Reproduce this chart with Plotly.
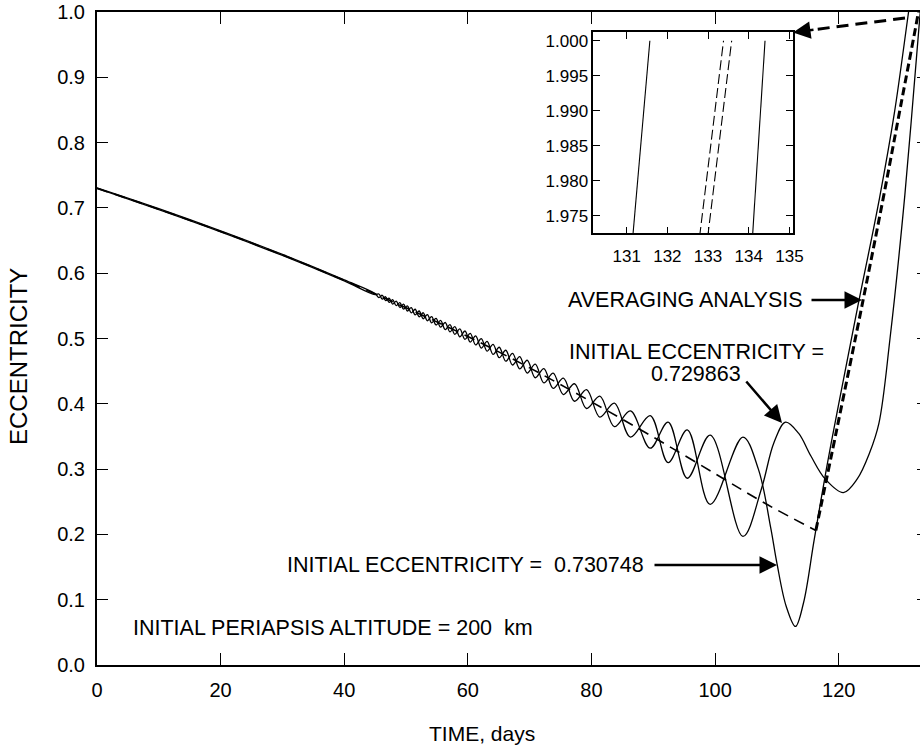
import plotly.graph_objects as go

# ---------------- data ----------------
# Curve for initial eccentricity 0.730748 (solid)
days_a = [0, 10, 20, 30, 40, 45,
          45.61, 46.15, 46.70, 47.26, 47.83, 48.41, 49.00, 49.60, 50.21, 50.83,
          51.47, 52.12, 52.78, 53.45, 54.14, 54.85, 55.58, 56.33, 57.10, 57.89,
          58.70, 59.53, 60.38, 61.26, 62.17, 63.11, 64.08, 65.08, 66.13, 67.23,
          68.38, 69.60, 70.90, 72.30, 73.80, 75.45, 77.25, 79.20, 81.35, 83.70,
          86.30, 89.50, 92.40, 95.50, 99.20, 104.50,
          107.0, 109.0, 110.0, 111.5, 113.0, 114.3, 116.0, 118.0, 120.0, 123.0,
          126.6, 129.0, 131.3, 132.5]
ecc_a = [0.7307, 0.6988, 0.6648, 0.6288, 0.5898, 0.5688,
         0.5626, 0.5662, 0.5579, 0.5617, 0.5528, 0.5572, 0.5475, 0.5525, 0.5421, 0.5474,
         0.5362, 0.5421, 0.5302, 0.5365, 0.5240, 0.5307, 0.5174, 0.5245, 0.5102, 0.5182,
         0.5026, 0.5115, 0.4946, 0.5039, 0.4854, 0.4956, 0.4757, 0.4866, 0.4652, 0.4772,
         0.4535, 0.4667, 0.4399, 0.4540, 0.4235, 0.4392, 0.4039, 0.4216, 0.3797, 0.4010,
         0.3490, 0.3820, 0.3100, 0.3600, 0.2460, 0.3490,
         0.300, 0.210, 0.156, 0.090, 0.059, 0.095, 0.190, 0.300, 0.400, 0.545,
         0.715, 0.845, 1.000, 1.080]

# Curve for initial eccentricity 0.729863 (solid)
days_b = [0, 10, 20, 30, 40, 45,
          45.61, 46.15, 46.70, 47.26, 47.83, 48.41, 49.00, 49.60, 50.21, 50.83,
          51.47, 52.12, 52.78, 53.45, 54.14, 54.85, 55.58, 56.33, 57.10, 57.89,
          58.70, 59.53, 60.38, 61.26, 62.17, 63.11, 64.08, 65.08, 66.13, 67.23,
          68.38, 69.60, 70.90, 72.30, 73.80, 75.45, 77.25, 79.20, 81.35, 83.70,
          86.30, 89.50, 92.40, 95.50, 99.20, 104.50,
          107.5, 109.5, 111.4, 113.5, 115.5, 117.8, 120.75, 123.0, 125.0, 126.5,
          128.3, 130.7, 133.1, 134.0]
ecc_b = [0.7299, 0.6972, 0.6632, 0.6272, 0.5882, 0.5672,
         0.5682, 0.5602, 0.5639, 0.5553, 0.5594, 0.5502, 0.5549, 0.5449, 0.5501, 0.5392,
         0.5448, 0.5333, 0.5394, 0.5271, 0.5336, 0.5207, 0.5276, 0.5137, 0.5214, 0.5064,
         0.5148, 0.4987, 0.5078, 0.4901, 0.4998, 0.4806, 0.4911, 0.4706, 0.4820, 0.4594,
         0.4721, 0.4471, 0.4607, 0.4320, 0.4469, 0.4142, 0.4307, 0.3928, 0.4117, 0.3650,
         0.3890, 0.3320, 0.3720, 0.2860, 0.3520, 0.1970,
         0.270, 0.340, 0.372, 0.355, 0.320, 0.285, 0.264, 0.285, 0.325, 0.370,
         0.500, 0.720, 0.990, 1.080]

# Averaging analysis (dashed): decay part and rise part
avg_days = [0, 10, 20, 30, 40, 50, 60, 70, 80, 90, 100, 108, 116.3]
avg_ecc = [0.730, 0.698, 0.664, 0.628, 0.589, 0.547, 0.503, 0.455, 0.403, 0.349,
           0.293, 0.248, 0.206]
rise_days = [116.3, 119.7, 124.0, 127.2, 130.0, 132.9, 134.0]
rise_ecc = [0.206, 0.3615, 0.5615, 0.715, 0.855, 1.000, 1.060]

# Inset (zoom near the top)
inset_a_days = [131.12, 131.57]
inset_a_ecc = [1.970, 2.000]
inset_b_days = [134.07, 134.40]
inset_b_ecc = [1.970, 2.000]
inset_avg1_days = [132.75, 133.38]
inset_avg1_ecc = [1.970, 2.000]
inset_avg2_days = [132.95, 133.58]
inset_avg2_ecc = [1.970, 2.000]

x_ticks = [0, 20, 40, 60, 80, 100, 120]
y_ticks = [0.0, 0.1, 0.2, 0.3, 0.4, 0.5, 0.6, 0.7, 0.8, 0.9, 1.0]
y_tick_text = ["0.0", "0.1", "0.2", "0.3", "0.4", "0.5", "0.6", "0.7", "0.8", "0.9", "1.0"]
inset_x_ticks = [131, 132, 133, 134, 135]
inset_y_ticks = [1.975, 1.980, 1.985, 1.990, 1.995, 2.000]
inset_y_text = ["1.975", "1.980", "1.985", "1.990", "1.995", "1.000"]

# ---------------- figure ----------------
FONT = "Liberation Sans, Arial, Helvetica, sans-serif"
W, H = 920, 748
ML, MR, MT, MB = 97, 0, 12, 83
PW, PH = W - ML - MR, H - MT - MB


def px(xp):
    return (xp - ML) / PW


def py(yp):
    return (H - MB - yp) / PH


fig = go.Figure()

fig.add_trace(go.Scatter(x=avg_days, y=avg_ecc, mode="lines", line_shape="spline",
                         line=dict(color="black", width=1.6, dash="11px,7px"),
                         hoverinfo="skip"))
fig.add_trace(go.Scatter(x=rise_days, y=rise_ecc, mode="lines", line_shape="spline",
                         yaxis="y3",
                         line=dict(color="black", width=3, dash="8px,4px"),
                         hoverinfo="skip"))
fig.add_trace(go.Scatter(x=days_a, y=ecc_a, mode="lines", line_shape="spline",
                         line=dict(color="black", width=1.3, smoothing=1.0),
                         hoverinfo="skip"))
fig.add_trace(go.Scatter(x=days_b, y=ecc_b, mode="lines", line_shape="spline",
                         line=dict(color="black", width=1.3, smoothing=1.0),
                         hoverinfo="skip"))

# inset
for dx, dy, dash in [(inset_a_days, inset_a_ecc, "solid"),
                     (inset_b_days, inset_b_ecc, "solid"),
                     (inset_avg1_days, inset_avg1_ecc, "10px,4px"),
                     (inset_avg2_days, inset_avg2_ecc, "10px,4px")]:
    fig.add_trace(go.Scatter(x=dx, y=dy, mode="lines", xaxis="x2", yaxis="y2",
                             line=dict(color="black", width=1.1, dash=dash),
                             hoverinfo="skip"))

axis_common = dict(showgrid=False, zeroline=False, showline=True, linecolor="black",
                   ticks="inside", tickcolor="black", mirror="ticks", automargin=False)

fig.update_layout(
    width=W, height=H, autosize=False,
    margin=dict(l=ML, r=MR, t=MT, b=MB, pad=0, autoexpand=False),
    paper_bgcolor="white", plot_bgcolor="white",
    showlegend=False,
    font=dict(family=FONT, color="black", size=20),
    xaxis=dict(range=[0, 133.15], tickvals=x_ticks, ticklen=12, tickwidth=1.2,
               linewidth=2.2, tickfont=dict(size=20), ticklabelstandoff=6, **axis_common),
    yaxis=dict(range=[0, 1.0], tickvals=y_ticks, ticktext=y_tick_text, ticklen=11,
               tickwidth=1.2, linewidth=2, tickfont=dict(size=20), ticklabelstandoff=6,
               showgrid=False, zeroline=False, showline=True, linecolor="black",
               ticks="inside", tickcolor="black", mirror=False, automargin=False),
    yaxis3=dict(range=[0, 1.0], tickvals=y_ticks, overlaying="y", side="right", anchor="x",
                ticks="inside", ticklen=3, tickwidth=1.2, tickcolor="black",
                showticklabels=False, showline=False, showgrid=False, zeroline=False,
                automargin=False),
    xaxis2=dict(domain=[px(593.3), px(792.7)], anchor="y2", range=[130.18, 135.08],
                tickvals=inset_x_ticks, ticklen=7, tickwidth=1, linewidth=1.5,
                tickfont=dict(size=17), ticklabelstandoff=7, **axis_common),
    yaxis2=dict(domain=[py(233.3), py(32.3)], anchor="x2", range=[1.9725, 2.0012],
                tickvals=inset_y_ticks, ticktext=inset_y_text, ticklen=7, tickwidth=1,
                linewidth=1.5, tickfont=dict(size=17), **axis_common),
)

ann = []
# axis titles
ann.append(dict(text="TIME, days", x=px(482), y=py(733), xref="paper", yref="paper",
                showarrow=False, font=dict(size=21), xanchor="center", yanchor="middle"))
ann.append(dict(text="ECCENTRICITY", x=px(18), y=py(357), xref="paper", yref="paper",
                showarrow=False, textangle=-90, font=dict(size=24),
                xanchor="center", yanchor="middle"))
# text labels
LBL = 21.5
ann.append(dict(text="AVERAGING ANALYSIS", x=px(805), y=py(300), xref="paper", yref="paper",
                showarrow=False, xanchor="right", yanchor="middle", font=dict(size=LBL)))
ann.append(dict(text="INITIAL ECCENTRICITY =", x=px(696), y=py(351.7), xref="paper",
                yref="paper", showarrow=False, xanchor="center", yanchor="middle",
                font=dict(size=LBL)))
ann.append(dict(text="0.729863", x=px(695.5), y=py(374), xref="paper", yref="paper",
                showarrow=False, xanchor="center", yanchor="middle", font=dict(size=LBL)))
ann.append(dict(text="INITIAL ECCENTRICITY =\u00a0 0.730748", x=px(646), y=py(565),
                xref="paper", yref="paper", showarrow=False, xanchor="right",
                yanchor="middle", font=dict(size=LBL)))
ann.append(dict(text="INITIAL PERIAPSIS ALTITUDE = 200\u00a0\u00a0km", x=px(131), y=py(628.3),
                xref="paper", yref="paper", showarrow=False, xanchor="left",
                yanchor="middle", font=dict(size=LBL)))

# arrows (tail -> tip, in pixels)
arrow_style = dict(text="", showarrow=True, arrowhead=2, arrowsize=1.4, arrowwidth=2.5,
                   arrowcolor="black", xref="paper", yref="paper", standoff=0)
for (tx, ty), (hx, hy) in [((810, 300), (862, 300)),
                           ((745, 380), (782, 423)),
                           ((653, 565), (777, 565)),
                           ((815, 29.5), (793, 32.5))]:
    ann.append(dict(x=px(hx), y=py(hy), ax=tx - hx, ay=ty - hy, **arrow_style))

fig.update_layout(annotations=ann)

fig.add_shape(type="line", xref="paper", yref="paper",
              x0=px(905), y0=py(18), x1=px(815), y1=py(29.5),
              line=dict(color="black", width=3, dash="12px,7px"))

fig.write_html("out.html", config={"responsive": False})
